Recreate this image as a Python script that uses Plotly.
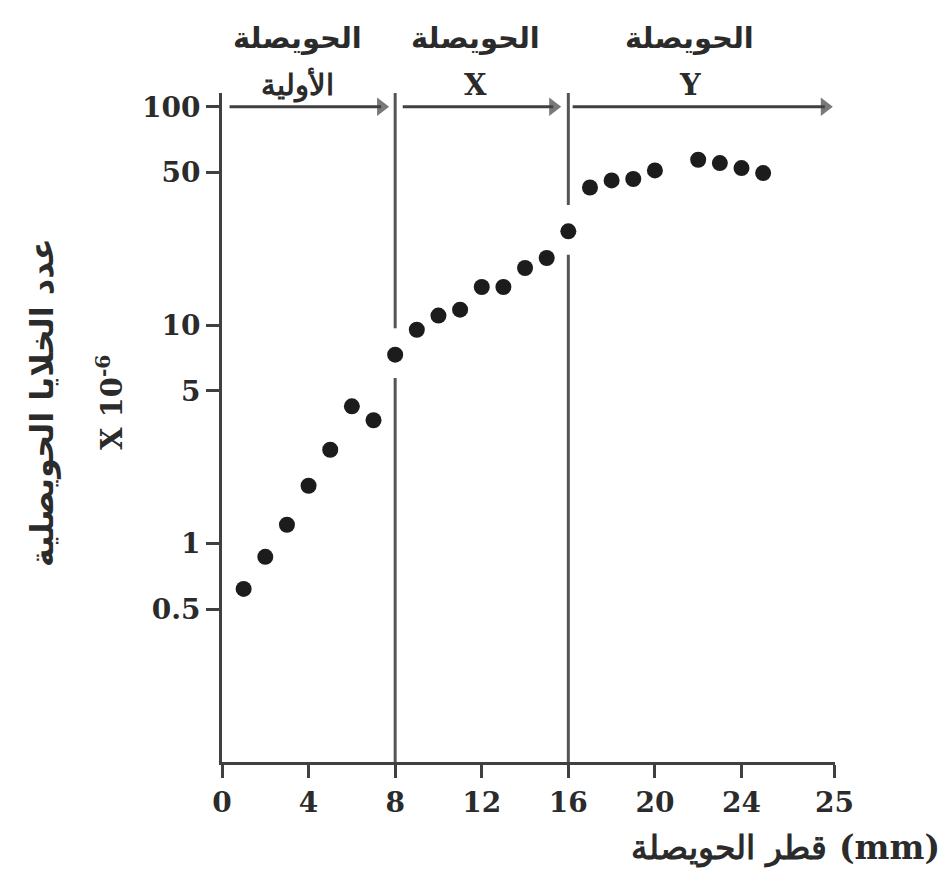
import numpy as np
import plotly.graph_objects as go

# Follicle diameter (mm) and follicular cell count (x 10^-6)
diameter_mm = [1, 2, 3, 4, 5, 6, 7, 8, 9, 10, 11, 12, 13, 14, 15, 16,
               17, 18, 19, 20, 22, 23, 24, 25]
cell_count = [0.62, 0.87, 1.22, 1.84, 2.69, 4.25, 3.67, 7.33, 9.53, 11.06,
              11.78, 14.96, 14.96, 18.27, 20.3, 26.9, 42.7, 46.0, 46.7, 51.1,
              57.2, 55.2, 52.4, 49.7]

x_tick_vals = [0, 4, 8, 12, 16, 20, 24, 28.3]
x_tick_text = ["0", "4", "8", "12", "16", "20", "24", "25"]
y_tick_vals = [0.5, 1, 5, 10, 50, 100]
y_tick_text = ["0.5", "1", "5", "10", "50", "100"]

# Stage boundaries and the stage banners above the plot
stage_bounds = [8, 16]
stage_line1 = ["الحويصلة", "الحويصلة", "الحويصلة"]
stage_line2 = ["الأولية", "X", "Y"]
stage_label_x = [3.5, 11.7, 21.6]
stage_arrows = [(0.35, 7.35), (8.35, 15.3), (16.2, 27.85)]

x_title = "قطر الحويصلة \u200e(mm)\u200e"
y_title_main = "عدد الخلايا الحويصلية"
y_title_unit = "X 10<sup>-6</sup>"

INK = "#2b2b2b"
LINE = "#404040"
x_range = [0, 28.32]
y_range = [-1, 2.063]
y_bottom, y_top = 10 ** y_range[0], 10 ** y_range[1]
arrow_level = 100

fig = go.Figure()

# Boundary lines, broken around the point that sits on each boundary
for b in stage_bounds:
    v = cell_count[diameter_mm.index(b)]
    fig.add_trace(go.Scatter(
        x=[b, b, None, b, b],
        y=[y_bottom, v / 1.28, None, v * 1.32, y_top],
        mode="lines", line=dict(color="#555555", width=3),
        hoverinfo="skip", showlegend=False, cliponaxis=False))

# Stage arrows along the 100 level: shaft plus a filled head
for (x0, x1) in stage_arrows:
    fig.add_trace(go.Scatter(
        x=[x0, x1], y=[arrow_level, arrow_level], mode="lines+markers",
        line=dict(color=LINE, width=2.8),
        marker=dict(symbol="triangle-right", size=[0, 16],
                    color=LINE, line=dict(width=0)),
        hoverinfo="skip", showlegend=False, cliponaxis=False))

fig.add_trace(go.Scatter(
    x=diameter_mm, y=cell_count, mode="markers",
    marker=dict(size=16, color="#1c1c1c"),
    showlegend=False, cliponaxis=False))

annotations = []
for t1, t2, xc in zip(stage_line1, stage_line2, stage_label_x):
    annotations.append(dict(
        x=xc, y=1, xref="x", yref="paper", text=f"<b>{t1}</b>",
        showarrow=False, xanchor="center", yanchor="middle", yshift=55,
        font=dict(family="DejaVu Sans", size=29, color=INK)))
    annotations.append(dict(
        x=xc, y=1, xref="x", yref="paper", text=f"<b>{t2}</b>",
        showarrow=False, xanchor="center", yanchor="middle", yshift=8,
        font=dict(family="DejaVu Serif", size=29, color=INK)))

annotations.append(dict(
    x=1, y=0, xref="paper", yref="paper", text=f"<b>{x_title}</b>",
    showarrow=False, xanchor="right", yanchor="middle",
    xshift=107, yshift=-86,
    font=dict(family="DejaVu Serif", size=33, color=INK)))

annotations.append(dict(
    x=0, y=0.5366, xref="paper", yref="paper", text=f"<b>{y_title_main}</b>",
    showarrow=False, textangle=-90, xanchor="center", yanchor="middle",
    xshift=-180, font=dict(family="DejaVu Sans", size=32, color=INK)))
annotations.append(dict(
    x=0, y=0.5366, xref="paper", yref="paper", text=f"<b>{y_title_unit}</b>",
    showarrow=False, textangle=-90, xanchor="center", yanchor="middle",
    xshift=-112, font=dict(family="DejaVu Serif", size=29, color=INK)))

axis_font = dict(family="DejaVu Serif", size=28, color=INK, weight="bold")

fig.update_layout(
    width=949, height=878,
    margin=dict(l=222, r=114, t=93, b=116),
    paper_bgcolor="white", plot_bgcolor="white",
    annotations=annotations,
    xaxis=dict(
        range=x_range, tickmode="array", tickvals=x_tick_vals,
        ticktext=x_tick_text, showgrid=False, zeroline=False,
        showline=True, linecolor=LINE, linewidth=3,
        ticks="outside", ticklen=13, tickwidth=3, tickcolor=LINE,
        tickfont=axis_font),
    yaxis=dict(
        type="log", range=y_range, tickmode="array", tickvals=y_tick_vals,
        ticktext=y_tick_text, showgrid=False, zeroline=False,
        showline=True, linecolor=LINE, linewidth=3,
        ticks="outside", ticklen=13, tickwidth=3, tickcolor=LINE,
        tickfont=axis_font),
)

fig.write_html("out.html")
